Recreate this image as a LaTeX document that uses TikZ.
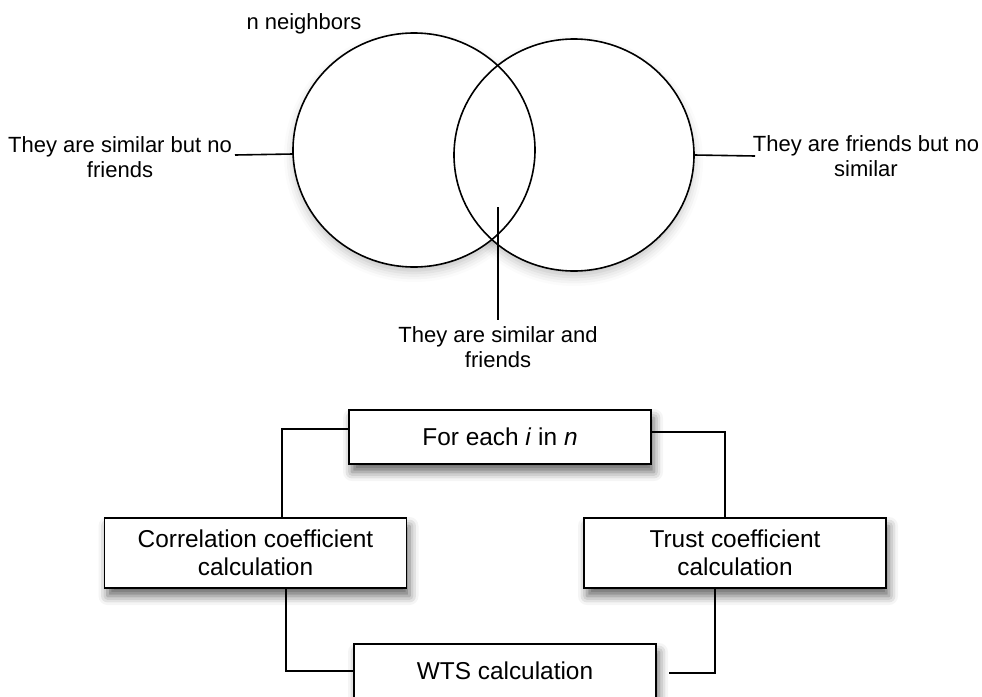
\documentclass[tikz,border=0pt]{standalone}
\usepackage{fontspec}
\setmainfont{Liberation Sans}
\usetikzlibrary{shapes.geometric,shadows.blur}

\begin{document}
\begin{tikzpicture}[x=1pt,y=-1pt,
  vennfill/.style={ellipse,inner sep=0pt,fill=white,draw=none,
    blur shadow={shadow xshift=0pt,shadow yshift=-6pt,shadow blur radius=9pt,shadow opacity=22}},
  vennline/.style={line width=1.6pt,black},
  lbl/.style={align=center,inner sep=0pt,font=\fontsize{22}{25.5}\selectfont},
  stepbox/.style={rectangle,draw=black,line width=1.8pt,fill=white,
    minimum width=302pt,align=center,inner sep=0pt,
    font=\fontsize{24.4}{28.5}\selectfont,
    blur shadow={shadow xshift=3pt,shadow yshift=-8pt,shadow blur radius=9pt,shadow opacity=60}},
  wire/.style={line width=1.6pt,black},
  pin/.style={line width=1.6pt,black}]

\useasboundingbox (0,0) rectangle (982,696);
\clip (0,0) rectangle (982,696);

% Venn diagram: soft shadows first, then white interiors, then both outlines
\node[vennfill,minimum width=242pt,minimum height=234pt] (setA) at (414,150) {};
\node[vennfill,minimum width=240pt,minimum height=232pt] (setB) at (574,155) {};
\fill[white] (setA.center) ellipse [x radius=121, y radius=117];
\fill[white] (setB.center) ellipse [x radius=120, y radius=116];
\draw[vennline] (setA.center) ellipse [x radius=121, y radius=117];
\draw[vennline] (setB.center) ellipse [x radius=120, y radius=116];

% labels of the regions
\node[lbl] (title) at (304,24) {n neighbors};
\node[lbl] (onlysim) at (120,157) {They are similar but no\\friends};
\node[lbl] (onlyfr) at (866,156) {They are friends but no\\similar};
\node[lbl] (both) at (498,347) {They are similar and\\friends};

\coordinate (onlysimEnd) at (235,155);
\coordinate (onlyfrEnd) at (755,156);
\coordinate (bothTop) at (498,207);
\coordinate (bothEnd) at (498,320);
\draw[pin] (onlysimEnd) -- ([yshift=-4pt]setA.west);
\draw[pin] (setB.east) -- (onlyfrEnd);
\draw[pin] (bothTop) -- (bothEnd);

% computation steps
\node[stepbox,minimum height=54pt] (each) at (500,437) {For each \textit{i} in \textit{n}};
\node[stepbox,minimum height=70pt] (corr) at (255.5,553) {Correlation coefficient\\calculation};
\node[stepbox,minimum height=70pt] (trust) at (735,553) {Trust coefficient\\calculation};
\node[stepbox,minimum height=54pt] (wts) at (505,671) {WTS calculation};

% connectors
\draw[wire] ([yshift=8pt]each.west) -| ([xshift=26.5pt]corr.north);
\draw[wire] ([yshift=5pt]each.east) -| ([xshift=-10pt]trust.north);
\draw[wire] ([xshift=30.5pt]corr.south) |- (wts.west);
\coordinate (wtsGap) at ([xshift=12pt,yshift=-2pt]wts.east);
\draw[wire] ([xshift=-20pt]trust.south) |- (wtsGap);

\end{tikzpicture}
\end{document}
